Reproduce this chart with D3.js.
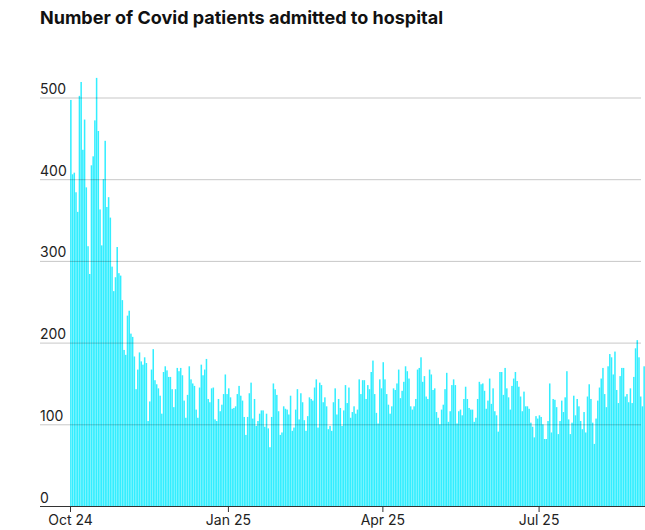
<!DOCTYPE html>
<html>
<head>
<meta charset="utf-8">
<script src="https://cdn.jsdelivr.net/npm/d3@7"></script>
<style>
  body { margin: 0; background: #fff; }
  svg { display: block; font-family: Inter, "Noto Sans", sans-serif; }
</style>
</head>
<body>
<div id="chart"></div>
<script>
const width = 645;
const height = 530;

// daily admissions, one array per month (Oct 2024 - Aug 2025)
const oct24 = [497, 406, 408, 384, 360, 502, 519, 436, 473, 390, 318, 284, 417, 428, 472, 524,
  459, 363, 319, 400, 447, 366, 378, 353, 293, 263, 280, 317, 285, 282, 252];
const nov24 = [191, 185, 233, 239, 211, 207, 183, 143, 167, 188, 177, 173, 182, 175, 104, 128,
  167, 192, 154, 149, 144, 135, 113, 164, 171, 166, 158, 158, 143, 121];
const dec24 = [143, 169, 165, 169, 160, 129, 108, 136, 171, 155, 150, 147, 118, 108, 145, 173,
  160, 167, 180, 131, 127, 144, 145, 106, 104, 131, 116, 124, 137, 161, 137];
const jan25 = [144, 133, 119, 120, 122, 137, 147, 135, 129, 109, 87, 109, 138, 151, 107, 131,
  98, 104, 113, 117, 117, 97, 113, 95, 72, 109, 150, 143, 136, 116, 87];
const feb25 = [90, 122, 119, 118, 112, 135, 92, 96, 118, 143, 106, 138, 127, 105, 92, 110,
  133, 131, 129, 145, 155, 96, 151, 148, 127, 133, 122, 94];
const mar25 = [98, 92, 127, 144, 112, 131, 120, 98, 117, 148, 126, 145, 108, 115, 122, 113,
  118, 155, 137, 154, 154, 131, 148, 143, 164, 178, 137, 114, 101, 155, 144];
const apr25 = [176, 155, 137, 124, 113, 122, 144, 142, 150, 167, 132, 141, 152, 171, 165, 156,
  122, 118, 122, 131, 167, 169, 182, 152, 159, 134, 131, 167, 161, 142];
const may25 = [144, 115, 108, 100, 118, 124, 143, 163, 103, 116, 148, 155, 148, 101, 116, 118,
  111, 131, 146, 131, 120, 118, 118, 103, 108, 131, 152, 149, 150, 141, 119];
const jun25 = [129, 156, 125, 144, 116, 111, 91, 164, 164, 136, 169, 144, 133, 118, 147, 156,
  164, 153, 146, 134, 116, 140, 122, 122, 119, 102, 97, 84, 110, 107];
const jul25 = [111, 109, 100, 82, 82, 104, 150, 90, 131, 130, 121, 88, 104, 129, 115, 133,
  165, 106, 88, 102, 135, 111, 131, 122, 104, 94, 115, 90, 134, 149, 131];
const aug25 = [102, 76, 107, 129, 145, 156, 169, 137, 121, 171, 186, 182, 161, 189, 142, 126,
  159, 169, 169, 134, 137, 127, 144, 126, 158, 193, 203, 182, 134, 122, 171];

const yTicks = [0, 100, 200, 300, 400, 500];
const xTicks = [new Date(Date.UTC(2024, 9, 1)), new Date(Date.UTC(2025, 0, 1)),
  new Date(Date.UTC(2025, 3, 1)), new Date(Date.UTC(2025, 6, 1))];

const admissions = [oct24, nov24, dec24, jan25, feb25, mar25, apr25, may25, jun25, jul25, aug25].flat();
const startDate = new Date(Date.UTC(2024, 9, 1));
const data = admissions.map((v, i) => ({ date: d3.utcDay.offset(startDate, i), value: v }));

const svg = d3.select("#chart")
  .append("svg")
  .attr("width", width)
  .attr("height", height);

const x = d3.scaleUtc()
  .domain([startDate, d3.utcDay.offset(startDate, data.length)])
  .range([70, 645]);

const y = d3.scaleLinear()
  .domain([0, 500])
  .range([506, 97.5]);

svg.append("text")
  .attr("x", 40)
  .attr("y", 24)
  .attr("font-size", 18)
  .attr("font-weight", 700)
  .attr("fill", "#111")
  .text("Number of Covid patients admitted to hospital");

// bars
svg.append("g")
  .selectAll("rect")
  .data(data)
  .join("rect")
  .attr("x", d => x(d.date) + 0.1)
  .attr("y", d => y(d.value))
  .attr("width", d => x(d3.utcDay.offset(d.date, 1)) - x(d.date) - 0.2)
  .attr("height", d => y(0) - y(d.value))
  .attr("fill", "#33eeff");

// y gridlines + labels, drawn over the bars
const yAxis = svg.append("g")
  .attr("transform", "translate(40,0)")
  .call(d3.axisRight(y).tickValues(yTicks).tickSize(601).tickFormat(d3.format("d")));

yAxis.select(".domain").remove();
yAxis.attr("font-family", null).attr("font-size", null);
yAxis.selectAll(".tick line")
  .attr("stroke", d => d === 0 ? "#333" : "rgba(0,0,0,0.22)")
  .attr("x2", d => d === 0 ? 605 : 601);
yAxis.selectAll(".tick text")
  .attr("x", 0)
  .attr("dy", -4)
  .attr("text-anchor", "start")
  .attr("font-size", 14)
  .attr("fill", "#222");

// x axis ticks
const xAxis = svg.append("g")
  .attr("transform", `translate(0,${y(0)})`)
  .call(d3.axisBottom(x).tickValues(xTicks).tickSize(6).tickFormat(d3.utcFormat("%b %y")));

xAxis.select(".domain").remove();
xAxis.attr("font-family", null).attr("font-size", null);
xAxis.selectAll(".tick line").attr("stroke", "#333");
xAxis.selectAll(".tick text")
  .attr("y", 9)
  .attr("font-size", 14)
  .attr("fill", "#222");
</script>
</body>
</html>
